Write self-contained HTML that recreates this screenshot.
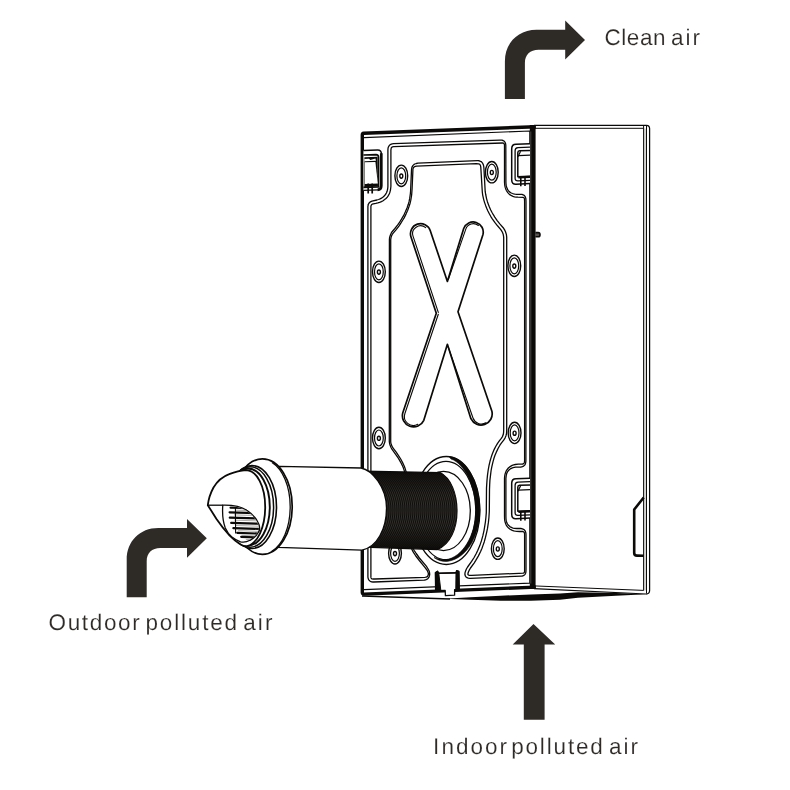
<!DOCTYPE html>
<html lang="en">
<head>
<meta charset="utf-8">
<title>Air flow diagram</title>
<style>
  html, body { margin: 0; padding: 0; background: #ffffff; }
  body { width: 790px; height: 790px; overflow: hidden; font-family: "Liberation Sans", sans-serif; }
  svg { display: block; will-change: transform; }
</style>
</head>
<body>
<svg width="790" height="790" viewBox="0 0 790 790">
<rect width="790" height="790" fill="#ffffff"/>
<g fill="none" stroke="#0c0a09" stroke-linejoin="round">
<path d="M534,125.3 L646.5,125.3 Q649.6,125.3 649.6,128.5 L649.6,590.5 Q649.6,594 646,594 L534,588.6" stroke-width="1.25"/>
<path d="M645.1,128.5 L645.1,590.5" stroke-width="2" stroke="#d6d5d4"/>
<path d="M534,128.3 L643.7,128.3 M643.6,126 L643.6,590.4 M646.5,126 L646.5,593.5" stroke-width="1"/>
<path d="M534,585.9 L643.7,590.4" stroke-width="1"/>
<path d="M643.7,497.5 L634.2,509.5 L634.2,553 Q634.2,555.6 637,555.6 L643.7,555.8" stroke-width="2.6"/>
<path d="M535.5,232.6 L538.2,232.6 Q540,232.6 540,234.7 Q540,236.8 538.2,236.8 L535.5,236.8" stroke-width="1.6" fill="#55524f"/>
</g>
<path d="M444.6,598.7 L470.4,597.2 L500.8,595.7 L531,594.6 L560,593.5 L578,592.3 L616,592.9 L646,594.2 L616,595.8 L578,597.8 L560,599.8 L531,600.7 L500.8,600.7 L470.4,599.8 Z" fill="#0c0a09"/>
<path d="M362,596 L450,598.9" stroke="#0c0a09" stroke-width="1.5" fill="none"/>
<path d="M361,133 L533,126 L533,587 L361,595 Z" fill="#fff"/>
<g fill="none" stroke="#0c0a09">
<path d="M364,137.6 L529.8,131 L529.8,583.1 L364,589.6" stroke-width="1.1"/>
<path d="M535.8,126.7 L363.7,133.2 Q362.3,133.3 362.3,134.8 L362.3,592.6 Q362.3,594.2 363.9,594.1 L535.8,587.1" stroke-width="3.4" stroke-linejoin="round"/>
<path d="M532.7,124.9 L532.7,589" stroke-width="5.8"/>
<path d="M530.8,131.5 L530.8,583.5" stroke-width="0.5" stroke="#8a8886"/>
</g>
<path d="M387.9,150.1 388.0,148.6 388.3,147.2 388.9,146.1 389.3,145.5 389.8,145.1 390.8,144.3 392.1,143.9 393.6,143.7 500.0,140.1 501.8,140.2 503.0,140.5 504.1,141.1 504.5,141.5 505.1,142.4 505.5,143.3 505.8,145.0 505.9,182.1 506.0,183.8 506.2,185.4 506.6,187.0 507.1,188.4 507.7,189.6 508.4,190.7 509.3,191.6 510.2,192.4 511.3,193.0 512.5,193.5 513.7,193.9 515.1,194.2 516.5,194.3 521.1,194.3 522.0,194.4 522.6,194.6 523.7,195.1 524.6,195.8 525.2,196.7 525.8,198.2 525.9,199.4 526.0,201.2 525.9,461.2 525.6,463.1 525.2,464.3 524.5,465.3 523.6,466.1 522.4,466.7 521.8,466.9 520.9,467.0 515.7,467.2 514.3,467.4 513.1,467.7 511.9,468.1 510.8,468.6 509.9,469.3 509.0,470.0 508.2,470.9 507.5,471.9 506.9,473.0 506.5,474.3 506.2,475.6 505.9,478.4 505.9,516.3 506.0,519.0 506.2,520.4 506.5,521.7 506.9,522.9 507.5,524.0 508.2,525.0 509.0,525.8 509.9,526.6 510.8,527.2 511.9,527.7 513.1,528.1 514.3,528.3 517.0,528.5 520.9,528.5 522.4,528.8 523.5,529.3 524.5,530.1 525.2,531.0 525.6,532.0 525.9,533.2 526.0,534.6 526.0,569.8 525.9,572.1 525.5,573.5 525.0,574.4 524.6,574.8 523.8,575.4 523.3,575.7 522.2,576.1 521.4,576.1 470.6,578.4 469.8,578.4 468.3,578.2 467.0,577.7 466.4,577.3 465.9,576.8 465.5,576.3 465.0,575.0 464.9,574.3 465.0,572.9 465.6,570.9 466.4,569.0 467.6,567.0 471.6,561.4 474.1,557.5 476.4,553.3 477.8,550.3 479.8,545.6 481.4,540.9 482.8,535.9 484.0,530.6 484.7,526.4 485.4,522.0 485.9,517.5 486.3,512.6 486.5,487.9 487.0,480.2 487.5,475.1 488.2,470.0 489.1,465.1 490.0,461.3 491.0,457.9 492.1,454.5 494.1,449.6 495.7,446.5 497.4,443.6 499.3,440.9 501.3,438.4 502.3,436.8 502.9,435.6 503.3,434.3 503.6,432.4 503.7,429.8 503.7,237.3 503.5,235.9 503.1,233.9 502.3,232.0 501.6,230.8 500.8,229.6 497.5,225.8 494.8,222.4 492.3,218.8 490.7,216.3 489.3,213.7 487.9,211.0 486.7,208.2 485.6,205.4 484.6,202.6 483.7,199.6 482.7,195.1 482.3,192.0 480.8,167.4 480.6,166.1 480.3,165.2 479.9,164.5 479.5,164.1 478.5,163.8 476.3,163.7 416.7,166.1 415.2,166.4 414.3,166.8 413.7,167.4 413.2,168.2 412.9,169.4 412.9,170.2 412.1,188.7 411.7,194.3 411.3,197.2 410.8,200.2 410.1,203.2 409.1,206.3 407.7,210.2 406.0,214.1 404.0,218.1 402.8,220.0 400.4,223.9 399.1,225.8 396.2,229.6 392.8,233.6 392.2,234.5 391.5,236.1 391.1,237.2 390.7,239.7 390.7,441.5 390.8,442.6 391.2,444.3 391.7,445.4 392.5,447.2 393.3,448.3 396.2,452.2 398.5,455.6 400.7,459.0 402.6,462.6 404.3,466.2 405.0,468.1 406.2,471.9 406.6,473.7 406.8,475.1 411.5,542.5 411.8,544.9 412.2,546.3 413.5,549.2 414.3,550.6 416.2,553.5 419.4,558.0 426.3,566.2 427.8,568.5 428.9,570.5 429.4,571.8 429.6,573.0 429.7,574.6 429.4,575.8 429.1,576.9 428.5,577.8 427.7,578.7 426.7,579.4 426.1,579.7 424.8,580.1 424.0,580.2 373.7,582.0 372.9,582.0 371.6,581.8 370.4,581.3 369.9,581.0 369.0,580.1 368.4,579.1 368.2,578.5 367.9,577.2 367.9,575.3 367.9,206.3 368.2,205.0 368.3,204.4 368.9,203.3 369.8,202.3 370.8,201.6 372.0,201.1 376.9,200.0 378.6,199.5 380.1,198.9 381.5,198.1 382.8,197.3 383.9,196.3 384.9,195.2 385.8,194.0 386.5,192.7 387.1,191.3 387.5,189.6 387.8,187.8 387.9,186.1Z" fill="none" stroke="#0c0a09" stroke-width="1.3" stroke-linejoin="round"/>
<path d="M390.9,150.2 391.1,148.6 391.3,147.9 391.6,147.5 391.9,147.2 392.4,146.9 393.8,146.7 502.4,143.0 503.3,143.1 503.8,143.4 504.2,143.9 504.5,145.1 504.5,182.2 504.8,185.7 505.2,187.4 505.7,188.9 506.3,190.3 507.1,191.7 508.0,192.9 509.0,193.9 510.2,194.9 511.5,195.7 513.0,196.3 514.5,196.8 516.2,197.1 517.9,197.2 523.1,197.3 523.6,197.5 524.1,197.9 524.5,199.0 524.6,201.2 524.6,461.1 524.4,462.2 524.1,463.1 523.6,463.6 522.9,464.0 522.2,464.1 518.3,464.2 515.3,464.5 513.7,464.9 512.2,465.4 510.9,466.1 509.7,466.9 508.6,467.8 507.7,468.8 506.8,470.0 506.1,471.2 505.6,472.5 505.1,473.9 504.8,475.3 504.5,478.4 504.5,516.3 504.6,519.1 504.8,520.6 505.1,522.1 505.6,523.5 506.1,524.8 506.8,526.0 507.7,527.1 508.6,528.1 509.7,529.0 510.9,529.7 512.3,530.4 513.7,530.9 515.3,531.2 516.8,531.4 519.6,531.5 522.3,531.4 523.0,531.5 523.8,532.0 524.3,532.6 524.4,533.0 524.6,533.9 524.6,535.7 524.6,571.4 524.4,572.2 524.1,572.7 523.7,573.1 522.9,573.2 519.0,573.3 471.7,575.4 469.4,575.3 468.7,575.2 468.3,575.0 468.1,574.7 467.9,574.4 468.0,573.3 468.4,572.0 469.1,570.4 470.5,568.0 474.1,563.1 475.8,560.4 478.3,556.1 480.6,551.5 482.0,548.2 483.0,545.4 484.3,541.7 485.3,538.0 486.6,532.6 487.5,528.4 488.4,522.4 488.9,517.8 489.3,511.5 489.5,489.3 489.7,484.2 489.9,480.4 490.5,475.4 491.1,470.5 491.8,466.9 492.9,462.1 493.8,458.8 494.9,455.5 496.2,452.4 498.3,448.0 499.9,445.2 501.7,442.7 503.7,440.2 505.0,438.1 505.9,435.9 506.4,434.3 506.6,432.7 506.7,429.8 506.7,237.1 506.4,234.6 505.9,233.0 505.4,231.5 504.6,229.9 503.2,227.7 499.8,223.9 497.2,220.6 494.8,217.1 493.3,214.7 491.9,212.2 490.6,209.7 489.4,207.1 488.4,204.4 487.4,201.7 486.6,198.8 485.7,194.5 485.2,191.7 483.9,168.0 483.7,166.2 483.3,164.6 482.6,163.2 481.7,162.1 481.1,161.6 479.7,161.0 478.2,160.7 477.4,160.7 418.0,163.2 416.3,163.5 414.8,164.0 414.1,164.4 413.1,165.4 412.7,165.9 412.0,167.1 411.7,168.5 411.5,170.1 410.7,188.6 410.5,192.7 410.1,195.5 409.7,198.4 409.1,201.4 408.3,204.3 407.1,207.7 405.5,211.5 403.7,215.4 401.5,219.2 399.1,223.0 397.7,224.9 394.9,228.5 392.1,231.7 391.2,233.2 390.4,235.0 390.0,236.2 389.6,237.5 389.4,239.6 389.3,441.6 389.6,443.5 389.9,444.7 390.9,447.3 391.9,449.2 396.0,454.8 398.3,458.2 400.3,461.6 401.2,463.3 402.9,466.8 403.6,468.6 404.8,472.3 405.2,474.0 405.5,476.5 410.2,543.9 410.4,545.2 410.8,546.7 411.4,548.3 412.9,551.4 413.8,552.9 415.8,556.0 419.3,560.5 424.9,567.3 426.9,570.0 427.6,571.2 428.0,572.3 428.3,573.2 428.4,574.0 428.1,575.3 427.5,576.4 426.5,577.0 425.8,577.2 424.9,577.3 374.7,579.0 372.6,579.0 372.0,578.8 371.6,578.6 371.2,578.1 371.0,577.7 370.9,576.9 370.9,575.3 370.9,206.5 371.0,205.8 371.3,205.2 371.7,204.5 372.2,204.2 373.3,203.9 375.8,203.4 377.8,202.9 379.6,202.3 381.4,201.6 383.1,200.7 384.6,199.6 386.0,198.5 387.3,197.1 388.3,195.6 389.2,194.0 389.9,192.2 390.4,190.3 390.7,188.2 390.9,186.3Z" fill="none" stroke="#0c0a09" stroke-width="1.3" stroke-linejoin="round"/>
<ellipse cx="401.3" cy="175.8" rx="6.4" ry="10.7" fill="#fff" stroke="#0c0a09" stroke-width="1.4"/>
<ellipse cx="401.3" cy="175.8" rx="4.4" ry="7.999999999999999" fill="none" stroke="#0c0a09" stroke-width="1.2"/>
<ellipse cx="401.3" cy="176.10000000000002" rx="1.5" ry="2.1" fill="#fff" stroke="#0c0a09" stroke-width="1.4"/>

<ellipse cx="491.8" cy="172.2" rx="6.4" ry="10.7" fill="#fff" stroke="#0c0a09" stroke-width="1.4"/>
<ellipse cx="491.8" cy="172.2" rx="4.4" ry="7.999999999999999" fill="none" stroke="#0c0a09" stroke-width="1.2"/>
<ellipse cx="491.8" cy="172.5" rx="1.5" ry="2.1" fill="#fff" stroke="#0c0a09" stroke-width="1.4"/>

<ellipse cx="378.9" cy="271.8" rx="6.4" ry="10.7" fill="#fff" stroke="#0c0a09" stroke-width="1.4"/>
<ellipse cx="378.9" cy="271.8" rx="4.4" ry="7.999999999999999" fill="none" stroke="#0c0a09" stroke-width="1.2"/>
<ellipse cx="378.9" cy="272.1" rx="1.5" ry="2.1" fill="#fff" stroke="#0c0a09" stroke-width="1.4"/>

<ellipse cx="514.3" cy="265.8" rx="6.4" ry="10.7" fill="#fff" stroke="#0c0a09" stroke-width="1.4"/>
<ellipse cx="514.3" cy="265.8" rx="4.4" ry="7.999999999999999" fill="none" stroke="#0c0a09" stroke-width="1.2"/>
<ellipse cx="514.3" cy="266.1" rx="1.5" ry="2.1" fill="#fff" stroke="#0c0a09" stroke-width="1.4"/>

<ellipse cx="378.9" cy="438" rx="6.4" ry="10.7" fill="#fff" stroke="#0c0a09" stroke-width="1.4"/>
<ellipse cx="378.9" cy="438" rx="4.4" ry="7.999999999999999" fill="none" stroke="#0c0a09" stroke-width="1.2"/>
<ellipse cx="378.9" cy="438.3" rx="1.5" ry="2.1" fill="#fff" stroke="#0c0a09" stroke-width="1.4"/>

<ellipse cx="514.6" cy="432.9" rx="6.4" ry="10.7" fill="#fff" stroke="#0c0a09" stroke-width="1.4"/>
<ellipse cx="514.6" cy="432.9" rx="4.4" ry="7.999999999999999" fill="none" stroke="#0c0a09" stroke-width="1.2"/>
<ellipse cx="514.6" cy="433.2" rx="1.5" ry="2.1" fill="#fff" stroke="#0c0a09" stroke-width="1.4"/>

<ellipse cx="395" cy="553.3" rx="6.4" ry="10.7" fill="#fff" stroke="#0c0a09" stroke-width="1.4"/>
<ellipse cx="395" cy="553.3" rx="4.4" ry="7.999999999999999" fill="none" stroke="#0c0a09" stroke-width="1.2"/>
<ellipse cx="395" cy="553.5999999999999" rx="1.5" ry="2.1" fill="#fff" stroke="#0c0a09" stroke-width="1.4"/>

<ellipse cx="497.8" cy="548.7" rx="6.4" ry="10.7" fill="#fff" stroke="#0c0a09" stroke-width="1.4"/>
<ellipse cx="497.8" cy="548.7" rx="4.4" ry="7.999999999999999" fill="none" stroke="#0c0a09" stroke-width="1.2"/>
<ellipse cx="497.8" cy="549.0" rx="1.5" ry="2.1" fill="#fff" stroke="#0c0a09" stroke-width="1.4"/>

<path d="M411,237 A10.1,10.1 0 0 1 430.2,230.5 L447.4,281.4 L463.7,228.5 A10.1,10.1 0 0 1 482.9,234.7 L458,311.8 L491.9,411.3 A11.2,11.2 0 0 1 470.9,418.7 L447.4,344.3 L423.8,420.3 A11.2,11.2 0 0 1 402.8,412.7 L436.3,313.3 Z" fill="#fff" stroke="#0c0a09" stroke-width="1.7" stroke-linejoin="round"/>
<g fill="none" stroke="#0c0a09" stroke-width="1.1" stroke-linecap="round">
<path d="M438.3,312.4 L413.1,236.3 A7.9,7.9 0 0 1 425.7,227.7"/>
<path d="M448.3,279.5 L465.8,229.1 A7.9,7.9 0 0 1 478.4,225.5"/>
<path d="M438.3,314.3 L404.9,413.5 A9,9 0 0 0 417.8,424.3"/>
<path d="M448.4,347.5 L473,418 A9,9 0 0 0 485.9,422.8"/>
</g>
<g fill="none" stroke="#0c0a09" stroke-linejoin="round"><path d="M363.4,150.6 L377.59999999999997,150.1 Q381.4,150.0 381.4,154.2 L381.4,185.8 Q381.4,189.8 377.59999999999997,189.89999999999998 L363.4,190.39999999999998 Z" stroke="none" fill="#fff"/><path d="M363.4,150.6 L377.59999999999997,150.1 Q381.4,150.0 381.4,154.2" stroke-width="1.5"/><path d="M381.29999999999995,153.2 L381.29999999999995,185.8 Q381.29999999999995,189.6 377.59999999999997,189.8" stroke-width="2.7"/><path d="M378.2,189.89999999999998 L363.4,190.39999999999998" stroke-width="1.2"/><path d="M363.4,155.0 L376.0,154.6 Q378.59999999999997,154.6 378.59999999999997,157.4 L378.59999999999997,186.89999999999998 L363.4,187.39999999999998" stroke-width="1.6"/><path d="M364.4,157.2 L377.59999999999997,156.79999999999998 L378.0,186.6 L364.4,187.0 Z" stroke="none" fill="#0c0a09"/><path d="M364.4,158.9 L368.9,158.7 L370.4,160.0 L375.4,158.6 L376.0,160.79999999999998 L364.4,161.2 Z" stroke="none" fill="#fff"/><path d="M364.79999999999995,162.2 L375.4,161.9 L377.79999999999995,183.6 L364.79999999999995,184.0 Z" stroke="none" fill="#fff"/><path d="M368.2,183.6 L368.2,193.6 M372.2,183.6 L372.2,193.6" stroke-width="1.7"/></g>
<g fill="none" stroke="#0c0a09" stroke-linejoin="round"><path d="M530,143.8 L516,144.3 Q511.7,144.4 511.7,148.8 L511.7,179.8 Q511.7,184.4 516,184.20000000000002 L530,183.60000000000002" stroke-width="1.5" fill="#fff"/><path d="M530,147.10000000000002 L518,147.60000000000002 Q515.1,147.70000000000002 515.1,150.8 L515.1,178.3 Q515.1,181.0 518,180.9 L530,180.4" stroke-width="1.3"/><path d="M530,150.4 L519.5,150.8 Q517.8,150.9 517.8,152.8 L517.8,176.8 L530,176.3" stroke-width="1.5"/><path d="M518.4,177.4 L530,176.9" stroke-width="2.4"/><path d="M518,156.8 L520.6,151.20000000000002" stroke-width="1.2"/><path d="M518.5,155.60000000000002 L530,155.10000000000002" stroke-width="1.2"/><path d="M520.8,177.3 L520.8,186.3 M525,177.3 L525,186.10000000000002" stroke-width="1.6"/></g>
<g fill="none" stroke="#0c0a09" stroke-linejoin="round"><path d="M530,478.3 L516,478.8 Q511.7,478.90000000000003 511.7,483.3 L511.7,514.3 Q511.7,518.9 516,518.7 L530,518.1" stroke-width="1.5" fill="#fff"/><path d="M530,481.6 L518,482.1 Q515.1,482.2 515.1,485.3 L515.1,512.8 Q515.1,515.5 518,515.4 L530,514.9" stroke-width="1.3"/><path d="M530,484.90000000000003 L519.5,485.3 Q517.8,485.40000000000003 517.8,487.3 L517.8,511.3 L530,510.8" stroke-width="1.5"/><path d="M518.4,511.90000000000003 L530,511.40000000000003" stroke-width="2.4"/><path d="M518,491.3 L520.6,485.7" stroke-width="1.2"/><path d="M518.5,490.1 L530,489.6" stroke-width="1.2"/><path d="M520.8,511.8 L520.8,520.8 M525,511.8 L525,520.6" stroke-width="1.6"/></g>
<g stroke="#0c0a09" stroke-linejoin="round">
<path d="M435.6,590.6 L435.4,572.6 L437.6,571.2 L438.8,573.4 L456,572.8 L456.6,570.6 L458.9,571.4 L459.2,589.4 L454.6,589.6 L454.6,595.2 L445.4,595.6 L445.2,590.4 Z" stroke-width="1.3" fill="#fff"/>
<path d="M435.6,590.4 L435.4,572.6 L437.6,571.2 L438.8,573.4 L440.8,590.4 Z" stroke-width="1" fill="#0c0a09"/>
<path d="M456,572.8 L456.6,570.6 L458.9,571.4 L459.2,589.4 L455.8,589.6 Z" stroke-width="1" fill="#0c0a09"/>
<path d="M438.6,573.3 L456.2,572.7" stroke-width="1.5" fill="none"/>
</g>
<g fill="none" stroke="#0c0a09">
<ellipse cx="446.3" cy="510.5" rx="33.6" ry="54" stroke-width="1.3" fill="#fff"/>
<ellipse cx="446" cy="510.5" rx="29.8" ry="49.2" stroke-width="1.2"/>
<path d="M449,456.6 C466,458 479.9,482 479.9,510.5 C479.9,534 468,558 448,561.3 C443,562 438,560.5 434,557.5 C438,559 442,559.8 446,559.6 C462,557.5 475.7,536 475.7,510.5 C475.7,488 465,463.5 451,459 Z" stroke-width="0.6" fill="#0c0a09"/>
<ellipse cx="443.5" cy="511" rx="26.8" ry="39.6" stroke-width="1.3"/>
</g>
<path d="M364,471.2 L440,472.6 C451,478 457,494 457,511 C457,528 450.5,544.5 437,549.6 L364,547.1 Z" fill="#0f0d0b" stroke="#0c0a09" stroke-width="1.2"/>
<clipPath id="cp"><path d="M364,471.2 L440,472.6 C451,478 457,494 457,511 C457,528 450.5,544.5 437,549.6 L364,547.1 Z"/></clipPath>
<linearGradient id="tg" gradientUnits="userSpaceOnUse" x1="0" y1="474" x2="0" y2="547"><stop offset="0" stop-color="#8a857f" stop-opacity="0.05"/><stop offset="0.3" stop-color="#8a857f" stop-opacity="0.4"/><stop offset="0.7" stop-color="#8a857f" stop-opacity="0.4"/><stop offset="1" stop-color="#8a857f" stop-opacity="0.05"/></linearGradient>
<g clip-path="url(#cp)" fill="none" stroke="url(#tg)" stroke-width="0.7"><path d="M372,474 C383,485 388,498 388,510 C388,523 383,536 372,547"/><path d="M374,474 C385,485 390,498 390,510 C390,523 385,536 374,547"/><path d="M376,474 C387,485 392,498 392,510 C392,523 387,536 376,547"/><path d="M378,474 C389,485 394,498 394,510 C394,523 389,536 378,547"/><path d="M380,474 C391,485 396,498 396,510 C396,523 391,536 380,547"/><path d="M382,474 C393,485 398,498 398,510 C398,523 393,536 382,547"/><path d="M384,474 C395,485 400,498 400,510 C400,523 395,536 384,547"/><path d="M386,474 C397,485 402,498 402,510 C402,523 397,536 386,547"/><path d="M388,474 C399,485 404,498 404,510 C404,523 399,536 388,547"/><path d="M390,474 C401,485 406,498 406,510 C406,523 401,536 390,547"/><path d="M392,474 C403,485 408,498 408,510 C408,523 403,536 392,547"/><path d="M394,474 C405,485 410,498 410,510 C410,523 405,536 394,547"/><path d="M396,474 C407,485 412,498 412,510 C412,523 407,536 396,547"/><path d="M398,474 C409,485 414,498 414,510 C414,523 409,536 398,547"/><path d="M400,474 C411,485 416,498 416,510 C416,523 411,536 400,547"/><path d="M402,474 C413,485 418,498 418,510 C418,523 413,536 402,547"/><path d="M404,474 C415,485 420,498 420,510 C420,523 415,536 404,547"/><path d="M406,474 C417,485 422,498 422,510 C422,523 417,536 406,547"/><path d="M408,474 C419,485 424,498 424,510 C424,523 419,536 408,547"/><path d="M410,474 C421,485 426,498 426,510 C426,523 421,536 410,547"/><path d="M412,474 C423,485 428,498 428,510 C428,523 423,536 412,547"/><path d="M414,474 C425,485 430,498 430,510 C430,523 425,536 414,547"/><path d="M416,474 C427,485 432,498 432,510 C432,523 427,536 416,547"/><path d="M418,474 C429,485 434,498 434,510 C434,523 429,536 418,547"/><path d="M420,474 C431,485 436,498 436,510 C436,523 431,536 420,547"/><path d="M422,474 C433,485 438,498 438,510 C438,523 433,536 422,547"/><path d="M424,474 C435,485 440,498 440,510 C440,523 435,536 424,547"/><path d="M426,474 C437,485 442,498 442,510 C442,523 437,536 426,547"/><path d="M428,474 C439,485 444,498 444,510 C444,523 439,536 428,547"/><path d="M430,474 C441,485 446,498 446,510 C446,523 441,536 430,547"/><path d="M432,474 C443,485 448,498 448,510 C448,523 443,536 432,547"/><path d="M434,474 C445,485 450,498 450,510 C450,523 445,536 434,547"/><path d="M436,474 C447,485 452,498 452,510 C452,523 447,536 436,547"/><path d="M438,474 C449,485 454,498 454,510 C454,523 449,536 438,547"/><path d="M440,474 C451,485 456,498 456,510 C456,523 451,536 440,547"/><path d="M442,474 C453,485 458,498 458,510 C458,523 453,536 442,547"/></g>
<path d="M279.5,466.4 L361,468 C372,470 386.5,487 386.5,508 C386.5,529 377,547 362,550.1 L278.5,547.3 Z" fill="#fff" stroke="#0c0a09" stroke-width="1.3"/>
<g fill="#fff" stroke="#0c0a09" stroke-linejoin="round">
<ellipse cx="262.4" cy="506.6" rx="29.8" ry="47.7" stroke-width="1.7"/>
<path d="M272,462.5 C282.5,469 290.2,486 290.2,506.7 C290.2,528 282.5,545 271.5,551.5" stroke-width="1.3" fill="none"/>
<ellipse cx="252" cy="507" rx="24.5" ry="41.5" stroke-width="1.6"/>
<ellipse cx="250" cy="507" rx="23.6" ry="40.2" stroke-width="1.5"/>
<ellipse cx="248" cy="507" rx="21.8" ry="38.5" stroke-width="1.9"/>
<path d="M207.8,505.2 C208.5,499 210.5,493 213.5,487.5 C217.5,481 223,476.5 229.2,474.2 C235,471.8 240,470.4 246,470.1 C256.8,470.2 265.2,486.5 265.2,507 C265.2,527 257.5,544 247,546.2 C244.5,546.4 242.5,545.6 240.5,544.4 C232.5,540 225,531.5 216.5,519.1 Z" stroke-width="1.8"/>
<path d="M222.8,505.2 C232,505 241,506.5 246.8,510.3 C252,513.5 256.5,518.5 258.9,524.2 C260.2,528 259.8,530.5 258.2,532.5 C256.5,536 253.5,538.5 250,540.3 C247,542 243.5,542.6 240.5,541.9 C237,540.5 234,538.8 231.6,536.8 C228.5,534 226.6,530.8 225.3,528 C223,522 222,516 222.8,505.2 Z" stroke-width="1.3"/>
<path d="M207.8,505.2 L223,505.2" stroke-width="1.3" fill="none"/>
</g>
<clipPath id="cg"><path d="M224,506 C233,505.6 241,507 246.5,510.8 C251.5,514 255.8,518.8 258.2,524.4 C259.4,528 259,530.4 257.6,532.2 C256,535.6 253.2,538 249.8,539.8 C247,541.4 243.5,542 240.7,541.3 C237,540 234.2,538.4 232,536.4 C229,533.6 227.2,530.6 225.9,527.8 C223.8,522 222.8,518 223,515.3 Z"/></clipPath>
<g clip-path="url(#cg)" fill="none" stroke="#0c0a09" stroke-width="2.2" stroke-linecap="round"><path d="M230.6,507.6 L262,508.5"/><path d="M229.6,512.3 L262,513.2"/><path d="M229.8,517.6 L262,518.5"/><path d="M231.2,522.9 L262,523.8"/><path d="M233.4,528.1 L262,529.0"/><path d="M237.2,532.8 L262,533.7"/><path d="M241.2,536.8 L262,537.7"/><g stroke-width="0.6" stroke="#77736f"><path d="M235.6,510.2 L262,511.0"/><path d="M234.6,514.9 L262,515.7"/><path d="M234.8,520.2 L262,521.0"/><path d="M236.2,525.5 L262,526.3"/><path d="M238.4,530.7 L262,531.5"/><path d="M242.2,535.4 L262,536.2"/><path d="M246.2,539.4 L262,540.2"/></g><path d="M235.4,507.5 L235.6,533" stroke-width="1.1"/></g>
<path d="M504.9,98.9 L504.9,61.5 C504.9,43 518,29.7 536.5,29.7 L565.2,29.7 L565.2,20.6 L585,39.9 L565.2,59.4 L565.2,49.8 L538.6,49.8 C530,49.8 524.9,55 524.9,63 L524.9,98.9 Z" fill="#2e2b27"/>
<path d="M504.9,98.9 L504.9,61.5 C504.9,43 518,29.7 536.5,29.7 L565.2,29.7 L565.2,20.6 L585,39.9 L565.2,59.4 L565.2,49.8 L538.6,49.8 C530,49.8 524.9,55 524.9,63 L524.9,98.9 Z" fill="#2e2b27" transform="translate(-378.2,498.3)"/>
<path d="M533.5,624 L555.2,644.6 L544.6,644.6 L544.6,719.7 L523.8,719.7 L523.8,644.6 L512.7,644.6 Z" fill="#2e2b27"/>
<g font-family="'Liberation Sans', sans-serif" font-size="22.5" fill="#2e2b27" stroke="#ffffff" stroke-width="0.15" text-rendering="geometricPrecision">
<text y="44.9"><tspan x="604.5" letter-spacing="0.55">Clean </tspan><tspan x="670.9" letter-spacing="2.05">air</tspan></text>
<text y="630.1"><tspan x="48.6" letter-spacing="1.63">Outdoor </tspan><tspan x="145.5" letter-spacing="1.83">polluted </tspan><tspan x="243.3" letter-spacing="2.05">air</tspan></text>
<text y="754.2"><tspan x="433.1" letter-spacing="2.04">Indoor </tspan><tspan x="511.2" letter-spacing="1.83">polluted </tspan><tspan x="609" letter-spacing="2.05">air</tspan></text>
</g>
</svg>
</body>
</html>
